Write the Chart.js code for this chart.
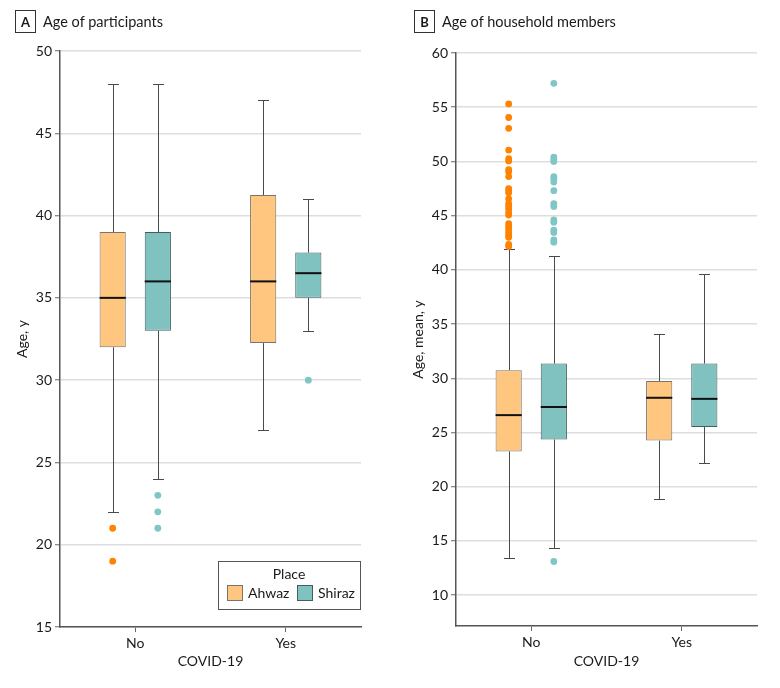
<!DOCTYPE html>
<html>
<head>
<meta charset="utf-8">
<title>Age of participants and household members</title>
<script src="https://cdn.jsdelivr.net/npm/chart.js@4.4.1/dist/chart.umd.min.js"></script>
<style>
  body { margin: 0; background: #fff; font-family: Lato, "Open Sans", sans-serif; color: #1a1a1a; }
  .page { position: relative; width: 780px; height: 688px; overflow: hidden; }
  .panel { position: absolute; top: 0; width: 390px; height: 688px; }
  .panel canvas { position: absolute; left: 0; top: 0; }
  .head { position: absolute; top: 10px; display: flex; align-items: center; z-index: 2; }
  .tag { box-sizing: border-box; width: 21px; height: 23px; border: 1px solid #333; font-weight: bold; font-size: 13px;
         display: flex; align-items: center; justify-content: center; margin-right: 7px; }
  .ttl { font-size: 14.5px; }
</style>
</head>
<body>
<div class="page">
  <div class="panel" style="left:0">
    <div class="head" style="left:15px"><span class="tag">A</span><span class="ttl">Age of participants</span></div>
    <canvas id="chartA" width="390" height="688"></canvas>
  </div>
  <div class="panel" style="left:390px">
    <div class="head" style="left:24px"><span class="tag">B</span><span class="ttl">Age of household members</span></div>
    <canvas id="chartB" width="390" height="688"></canvas>
  </div>
</div>
<script>
// categories and groups
const covidLabels = ['No', 'Yes'];
const placeNames = ['Ahwaz', 'Shiraz'];

// box stats per category: [lower whisker, Q1, median, Q3, upper whisker]
const ageAhwaz = [[22, 32, 35, 39, 48], [27, 32.25, 36, 41.25, 47]];
const ageShiraz = [[24, 33, 36, 39, 48], [33, 35, 36.5, 37.75, 41]];
const ageAhwazOutliers = [[21, 19], []];
const ageShirazOutliers = [[23, 22, 21], [30]];

const hhAhwaz = [[13.45, 23.25, 26.6, 30.75, 41.9], [18.85, 24.25, 28.2, 29.75, 34.1]];
const hhShiraz = [[14.3, 24.35, 27.35, 31.35, 41.25], [22.15, 25.5, 28.1, 31.35, 39.6]];
const hhAhwazOutliers = [[55.3, 54.05, 53.05, 51.05, 50.25, 50.05, 49.25, 49.05, 48.6, 47.5, 47.3, 47.1,
  46.55, 46.1, 45.85, 45.6, 45.3, 45.05, 44.25, 44.0, 43.75, 43.45, 43.2, 43.0, 42.35, 42.15], []];
const hhShirazOutliers = [[57.2, 50.4, 50.2, 50.0, 48.6, 48.4, 48.1, 47.3, 46.1, 45.85, 44.6, 44.4,
  43.65, 43.45, 42.75, 42.55, 13.1], []];

const FONT = 'Lato, "Open Sans", sans-serif';
const TEXT = '#1a1a1a';
const fills = ['#ffc680', '#80c2bf'];
const borders = ['#7b7368', '#3f5f5e'];
const dotColors = ['#ff8200', '#7fc6c5'];

// whiskers under the boxes, medians and outliers on top
const boxPlot = {
  id: 'boxPlot',
  beforeDatasetsDraw(chart) {
    const { ctx, scales: { y } } = chart;
    ctx.save();
    ctx.strokeStyle = '#4a4a4a';
    ctx.lineWidth = 1;
    chart.data.datasets.forEach((ds, i) => {
      chart.getDatasetMeta(i).data.forEach((bar, j) => {
        const s = ds.stats[j];
        const x = Math.round(bar.x) + 0.5;
        const cap = 5.5;
        const lo = Math.round(y.getPixelForValue(s[0])) + 0.5;
        const hi = Math.round(y.getPixelForValue(s[4])) + 0.5;
        ctx.beginPath();
        ctx.moveTo(x, lo);
        ctx.lineTo(x, y.getPixelForValue(s[1]));
        ctx.moveTo(x, y.getPixelForValue(s[3]));
        ctx.lineTo(x, hi);
        ctx.moveTo(x - cap, lo); ctx.lineTo(x + cap, lo);
        ctx.moveTo(x - cap, hi); ctx.lineTo(x + cap, hi);
        ctx.stroke();
      });
    });
    ctx.restore();
  },
  afterDatasetsDraw(chart) {
    const { ctx, scales: { y } } = chart;
    ctx.save();
    chart.data.datasets.forEach((ds, i) => {
      chart.getDatasetMeta(i).data.forEach((bar, j) => {
        const s = ds.stats[j];
        const half = bar.width / 2;
        const m = y.getPixelForValue(s[2]);
        ctx.strokeStyle = '#111';
        ctx.lineWidth = 2;
        ctx.beginPath();
        ctx.moveTo(bar.x - half, m);
        ctx.lineTo(bar.x + half, m);
        ctx.stroke();
        ctx.fillStyle = ds.dotColor;
        ds.outliers[j].forEach((v) => {
          ctx.beginPath();
          ctx.arc(bar.x, y.getPixelForValue(v), 3.4, 0, Math.PI * 2);
          ctx.fill();
        });
      });
    });
    ctx.restore();
  },
  afterDraw(chart, args, opts) {
    if (!opts.legend) return;
    const { ctx, chartArea } = chart;
    const w = 142;
    const h = 48;
    const left = chartArea.right - w - 1;
    const top = chartArea.bottom - h - 18;
    ctx.save();
    ctx.fillStyle = '#fff';
    ctx.fillRect(left, top, w, h);
    ctx.strokeStyle = '#555';
    ctx.lineWidth = 1;
    ctx.strokeRect(Math.round(left) + 0.5, Math.round(top) + 0.5, w, h);
    ctx.fillStyle = TEXT;
    ctx.font = `14px ${FONT}`;
    ctx.textAlign = 'center';
    ctx.textBaseline = 'middle';
    ctx.fillText('Place', left + w / 2, top + 13);
    ctx.textAlign = 'left';
    chart.data.datasets.forEach((ds, i) => {
      const sx = left + 9 + i * 70;
      ctx.fillStyle = ds.backgroundColor;
      ctx.fillRect(sx, top + 24, 15, 15);
      ctx.strokeStyle = ds.borderColor;
      ctx.strokeRect(sx + 0.5, top + 24.5, 15, 15);
      ctx.fillStyle = TEXT;
      ctx.fillText(ds.label, sx + 21, top + 32);
    });
    ctx.restore();
  }
};

function makeBoxChart(id, series, outliers, yOpts, area) {
  const datasets = placeNames.map((name, i) => ({
    label: name,
    data: series[i].map((s) => [s[1], s[3]]),
    stats: series[i],
    outliers: outliers[i],
    dotColor: dotColors[i],
    backgroundColor: fills[i],
    borderColor: borders[i],
    borderWidth: 1,
    borderSkipped: false,
    categoryPercentage: 0.6,
    barPercentage: 0.58
  }));
  return new Chart(document.getElementById(id), {
    type: 'bar',
    data: { labels: covidLabels, datasets },
    plugins: [boxPlot],
    options: {
      responsive: false,
      animation: false,
      layout: { padding: { top: area.top, right: area.right, bottom: 0, left: 0 } },
      plugins: {
        legend: { display: false },
        tooltip: { enabled: false },
        boxPlot: { legend: area.legend }
      },
      scales: {
        x: {
          grid: { display: true, drawOnChartArea: false, offset: false, tickLength: 5, tickColor: '#666' },
          border: { display: true, color: '#555', width: 1.5 },
          ticks: { color: TEXT, font: { family: FONT, size: 14 }, padding: 3 },
          title: { display: true, text: 'COVID-19', color: TEXT, font: { family: FONT, size: 14 }, padding: { top: 0, bottom: 18 } },
          afterFit: (s) => { s.height = area.xHeight; }
        },
        y: {
          min: yOpts.min,
          max: yOpts.max,
          grid: { color: '#dedede', lineWidth: 1.5, tickLength: 5, tickColor: '#666', tickWidth: 1 },
          border: { display: true, color: '#555', width: 1.5 },
          ticks: { stepSize: 5, includeBounds: false, color: TEXT, font: { family: FONT, size: 14 }, padding: 3 },
          title: { display: true, text: yOpts.title, color: TEXT, font: { family: FONT, size: 14 }, padding: { top: area.titlePad, bottom: 0 } },
          afterFit: (s) => { s.width = area.yWidth; }
        }
      }
    }
  });
}

makeBoxChart('chartA', [ageAhwaz, ageShiraz], [ageAhwazOutliers, ageShirazOutliers],
  { min: 15, max: 50, title: 'Age, y' },
  { top: 51, right: 29, xHeight: 61, yWidth: 60, titlePad: 14, legend: true });

makeBoxChart('chartB', [hhAhwaz, hhShiraz], [hhAhwazOutliers, hhShirazOutliers],
  { min: 7.15, max: 60, title: 'Age, mean, y' },
  { top: 53, right: 23, xHeight: 62, yWidth: 66, titlePad: 20, legend: false });
</script>
</body>
</html>
